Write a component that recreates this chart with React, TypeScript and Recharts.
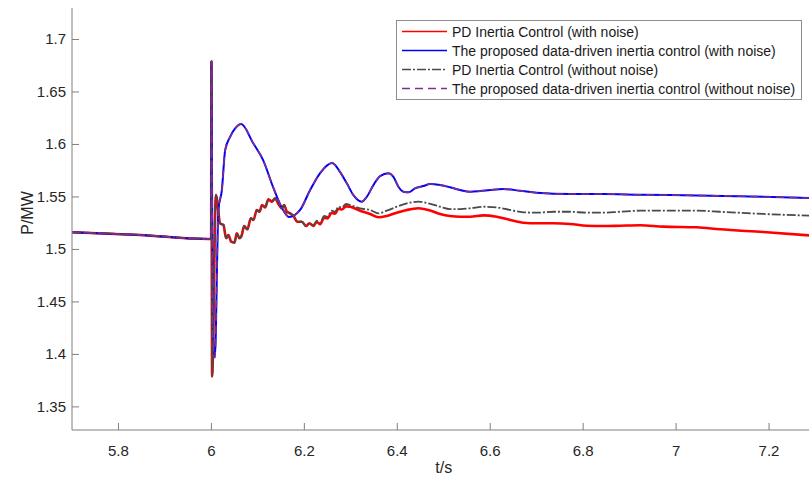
import React from 'react';
import { LineChart, Line, XAxis, YAxis, Legend, Label } from 'recharts';

const FONT = '"Liberation Sans", Arial, sans-serif';
const AXIS = '#7f7f7f';
const TEXT = '#262626';

// tick values
const timeTicks = [5.8, 6, 6.2, 6.4, 6.6, 6.8, 7, 7.2];
const powerTicks = [1.35, 1.4, 1.45, 1.5, 1.55, 1.6, 1.65, 1.7];

// PD inertia control, shared time base (s)
const pdTime = [
  5.7, 5.8467, 5.993, 5.9995, 6.0, 6.0015, 6.0097, 6.0188, 6.0259, 6.0317,
  6.0367, 6.0425, 6.0496, 6.0547, 6.0603, 6.0655, 6.0704, 6.0775, 6.0849, 6.0904,
  6.0978, 6.1034, 6.1092, 6.1156, 6.1227, 6.13, 6.1371, 6.1442, 6.1516, 6.1565,
  6.1623, 6.1694, 6.1765, 6.1851, 6.1946, 6.2038, 6.2109, 6.2195, 6.2269, 6.234,
  6.2426, 6.2497, 6.2591, 6.2662, 6.2733, 6.2806, 6.2899, 6.2985, 6.32, 6.3415,
  6.3594, 6.3775, 6.399, 6.4205, 6.4454, 6.467, 6.4921, 6.5136, 6.5352, 6.5567,
  6.5853, 6.6141, 6.6427, 6.6713, 6.7002, 6.7359, 6.7718, 6.8077, 6.8435, 6.8794,
  6.9224, 6.9726, 7.0444, 7.0945, 7.1877, 7.3,
];

const pdWithNoise = [
  1.5164, 1.5138, 1.51, 1.51, 1.679, 1.379, 1.5518, 1.5249, 1.5233, 1.5107,
  1.5138, 1.5074, 1.5065, 1.5154, 1.5107, 1.5138, 1.5223, 1.5192, 1.5297, 1.5281,
  1.5376, 1.5359, 1.5423, 1.5401, 1.5477, 1.5455, 1.5487, 1.5433, 1.5392, 1.5423,
  1.5359, 1.5344, 1.5319, 1.5264, 1.5264, 1.5223, 1.5249, 1.5223, 1.5262, 1.524,
  1.5302, 1.5295, 1.535, 1.534, 1.5388, 1.538, 1.541, 1.5407, 1.5369, 1.5338,
  1.5306, 1.5319, 1.535, 1.5376, 1.5392, 1.5376, 1.5338, 1.5319, 1.5312, 1.5312,
  1.5325, 1.5312, 1.5281, 1.5255, 1.5249, 1.5249, 1.5243, 1.5226, 1.5223, 1.5226,
  1.523, 1.5217, 1.5211, 1.5192, 1.5166, 1.513,
];

const pdWithoutNoise = [
  1.5164, 1.5138, 1.51, 1.51, 1.679, 1.379, 1.5518, 1.5249, 1.5233, 1.5107,
  1.5138, 1.5074, 1.5065, 1.5154, 1.5107, 1.5138, 1.5223, 1.5192, 1.5297, 1.5281,
  1.5376, 1.5359, 1.5423, 1.5401, 1.5477, 1.5455, 1.5487, 1.5433, 1.5392, 1.5423,
  1.5359, 1.5344, 1.5319, 1.5264, 1.5264, 1.5223, 1.5249, 1.5233, 1.5274, 1.5255,
  1.5319, 1.5312, 1.5369, 1.5359, 1.5407, 1.5401, 1.5433, 1.5423, 1.5392, 1.5376,
  1.5344, 1.5369, 1.5407, 1.5439, 1.5455, 1.5439, 1.5407, 1.5385, 1.5385, 1.5392,
  1.5407, 1.5401, 1.5376, 1.5354, 1.535, 1.5359, 1.5359, 1.535, 1.535, 1.5359,
  1.5369, 1.5369, 1.5369, 1.5359, 1.5338, 1.532,
];

// proposed data-driven inertia control
const proposedTime = [
  5.7, 5.8467, 5.993, 5.9995, 6.0, 6.003, 6.0074, 6.0151, 6.0225, 6.0296,
  6.0403, 6.0511, 6.064, 6.0898, 6.1113, 6.1328, 6.1543, 6.1672, 6.1909, 6.2124,
  6.234, 6.2598, 6.277, 6.2914, 6.3056, 6.3237, 6.3344, 6.3486, 6.363, 6.3809,
  6.3917, 6.4024, 6.4132, 6.4239, 6.4383, 6.4562, 6.4706, 6.4921, 6.5136, 6.5352,
  6.5567, 6.5782, 6.5997, 6.6283, 6.6642, 6.7002, 6.7718, 6.8435, 6.9224, 7.0444,
  7.1877, 7.3,
];

const proposedWithNoise = [
  1.5164, 1.5138, 1.51, 1.51, 1.679, 1.42, 1.397, 1.5375, 1.5566, 1.5946,
  1.6073, 1.6153, 1.6194, 1.6013, 1.5851, 1.5594, 1.5376, 1.5309, 1.5376, 1.5566,
  1.5728, 1.5823, 1.5737, 1.563, 1.5518, 1.5455, 1.5502, 1.5613, 1.5699, 1.5725,
  1.5692, 1.5597, 1.555, 1.5544, 1.5582, 1.5604, 1.5623, 1.5613, 1.5592, 1.5566,
  1.555, 1.5556, 1.5566, 1.5575, 1.5559, 1.554, 1.5528, 1.5528, 1.5521, 1.5515,
  1.5502, 1.5488,
];

const proposedWithoutNoise = [
  1.5164, 1.5138, 1.51, 1.51, 1.679, 1.42, 1.397, 1.5375, 1.5566, 1.5946,
  1.6073, 1.6153, 1.6194, 1.6013, 1.5851, 1.5594, 1.5376, 1.5309, 1.5376, 1.5566,
  1.5728, 1.5823, 1.5737, 1.563, 1.5518, 1.5455, 1.5502, 1.5613, 1.5699, 1.5725,
  1.5692, 1.5597, 1.555, 1.5544, 1.5582, 1.5604, 1.5623, 1.5613, 1.5592, 1.5566,
  1.555, 1.5556, 1.5566, 1.5575, 1.5559, 1.554, 1.5528, 1.5528, 1.5521, 1.5515,
  1.5502, 1.5488,
];

const toPoints = (t: number[], p: number[]) => t.map((x, i) => ({ t: x, p: p[i] }));

const series = [
  { name: 'PD Inertia Control (with noise)', color: '#ff0000', width: 2.6, dash: undefined, data: toPoints(pdTime, pdWithNoise) },
  { name: 'The proposed data-driven inertia control (with noise)', color: '#0000ff', width: 2, dash: undefined, data: toPoints(proposedTime, proposedWithNoise) },
  { name: 'PD Inertia Control (without noise)', color: '#4a4a4a', width: 1.8, dash: '9 2 2 2', data: toPoints(pdTime, pdWithoutNoise) },
  { name: 'The proposed data-driven inertia control (without noise)', color: '#7e2f8e', width: 1.6, dash: '8 5', data: toPoints(proposedTime, proposedWithoutNoise) },
];

const TICK_LEN = 7;

const LeftTick = ({ x, y, payload }: any) => (
  <g>
    <line x1={x + 6} x2={x + 6 + TICK_LEN} y1={y} y2={y} stroke={AXIS} />
    <text x={x} y={y} dy={5} textAnchor="end" fontSize={15} fill={TEXT} fontFamily={FONT}>
      {String(payload.value)}
    </text>
  </g>
);

const RightTick = ({ x, y }: any) => (
  <line x1={x} x2={x - TICK_LEN} y1={y} y2={y} stroke={AXIS} />
);

const BottomTick = ({ x, y, payload }: any) => (
  <g>
    <line x1={x} x2={x} y1={y} y2={y - TICK_LEN} stroke={AXIS} />
    <text x={x} y={y + 26} textAnchor="middle" fontSize={15} fill={TEXT} fontFamily={FONT}>
      {String(payload.value)}
    </text>
  </g>
);

const TopTick = ({ x, y }: any) => (
  <line x1={x} x2={x} y1={y} y2={y + TICK_LEN} stroke={AXIS} />
);

const LegendBox = () => (
  <div
    style={{
      border: '1px solid #8c8c8c',
      background: '#fff',
      width: 404,
      padding: '1px 0',
      fontFamily: FONT,
      fontSize: 14,
      color: '#1a1a1a',
    }}
  >
    {series.map((s) => (
      <div key={s.name} style={{ display: 'flex', alignItems: 'center', height: 19 }}>
        <svg width={55} height={19} style={{ flex: 'none' }}>
          <line x1={5} x2={50} y1={9.5} y2={9.5} stroke={s.color} strokeWidth={1.5} strokeDasharray={s.dash} />
        </svg>
        <span style={{ whiteSpace: 'nowrap' }}>{s.name}</span>
      </div>
    ))}
  </div>
);

export default function App() {
  return (
    <div style={{ position: 'absolute', left: 0, top: 0, width: 809, height: 481, overflow: 'hidden', background: '#fff', fontFamily: FONT }}>
      <LineChart width={820} height={481} margin={{ top: 8, right: 4.5, bottom: 0, left: 0 }}>
        <XAxis
          dataKey="t"
          type="number"
          domain={[5.7, 7.3]}
          ticks={timeTicks}
          allowDataOverflow
          height={51}
          stroke={AXIS}
          tickLine={false}
          tickSize={0}
          tickMargin={0}
          tick={<BottomTick />}
        >
          <Label
            content={({ viewBox }: any) => (
              <text
                x={viewBox.x + viewBox.width / 2}
                y={viewBox.y + 43}
                textAnchor="middle"
                fontSize={16}
                fill={TEXT}
                fontFamily={FONT}
              >
                t/s
              </text>
            )}
          />
        </XAxis>
        <XAxis
          xAxisId="top"
          orientation="top"
          dataKey="t"
          type="number"
          domain={[5.7, 7.3]}
          ticks={timeTicks}
          allowDataOverflow
          height={0}
          stroke={AXIS}
          tickLine={false}
          tickSize={0}
          tickMargin={0}
          tick={<TopTick />}
        />
        <YAxis
          type="number"
          domain={[1.328, 1.73]}
          ticks={powerTicks}
          allowDataOverflow
          width={72}
          stroke={AXIS}
          tickLine={false}
          tickSize={0}
          tickMargin={6}
          tick={<LeftTick />}
        >
          <Label
            content={({ viewBox }: any) => {
              const cx = viewBox.x + 27;
              const cy = viewBox.y + viewBox.height / 2 - 6;
              return (
                <text
                  x={cx}
                  y={cy}
                  transform={`rotate(-90 ${cx} ${cy})`}
                  textAnchor="middle"
                  dominantBaseline="central"
                  fontSize={16}
                  fill={TEXT}
                  fontFamily={FONT}
                >
                  P/MW
                </text>
              );
            }}
          />
        </YAxis>
        <YAxis
          yAxisId="right"
          orientation="right"
          type="number"
          domain={[1.328, 1.73]}
          ticks={powerTicks}
          allowDataOverflow
          width={0}
          stroke={AXIS}
          tickLine={false}
          tickSize={0}
          tickMargin={0}
          tick={<RightTick />}
        />
        {series.map((s) => (
          <Line
            key={s.name}
            data={s.data}
            dataKey="p"
            name={s.name}
            type="monotone"
            stroke={s.color}
            strokeWidth={s.width}
            strokeDasharray={s.dash}
            dot={false}
            activeDot={false}
            isAnimationActive={false}
          />
        ))}
        <Legend
          layout="vertical"
          align="center"
          verticalAlign="middle"
          content={() => <LegendBox />}
          wrapperStyle={{ left: 396, top: 20, width: 406, height: 'auto' }}
        />
      </LineChart>
    </div>
  );
}
